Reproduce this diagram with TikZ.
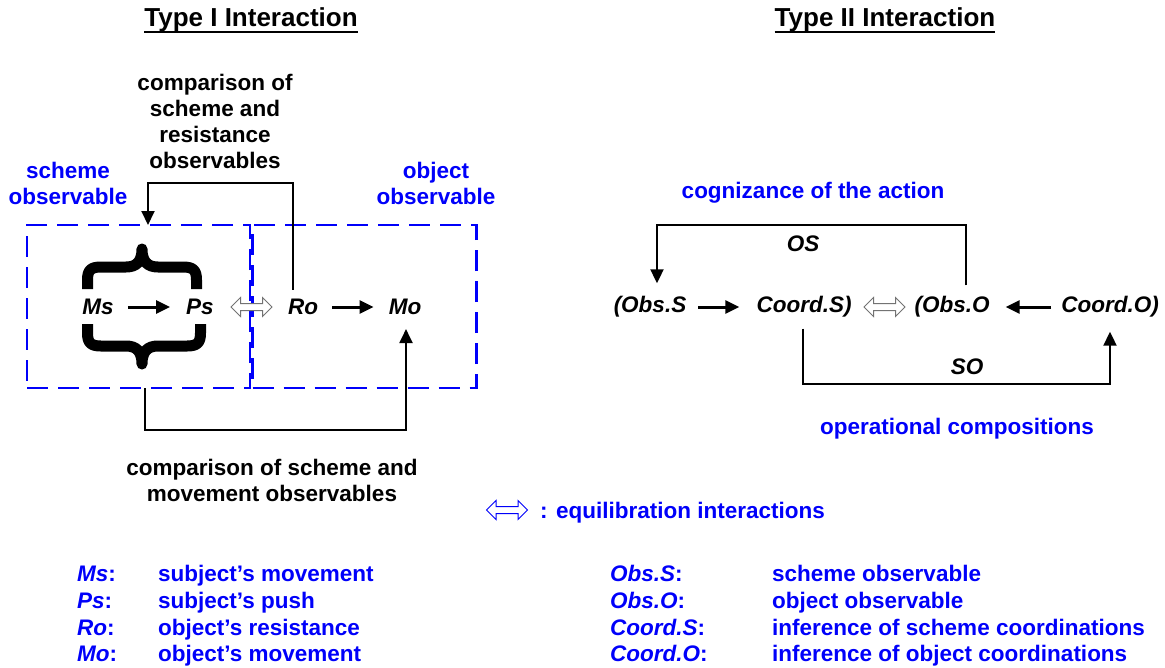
\documentclass[tikz,border=0pt]{standalone}
\usepackage{fontspec}
\setmainfont{Liberation Sans}
\usetikzlibrary{arrows.meta,shapes.arrows}
\definecolor{lblue}{RGB}{0,0,250}
\begin{document}
\begin{tikzpicture}[x=1pt,y=-1pt,
  every node/.style={font=\fontsize{22.5}{26}\selectfont\bfseries, inner sep=0pt, align=center},
  bluetxt/.style={text=lblue},
  var/.style={font=\fontsize{22.5}{26}\selectfont\bfseries\itshape},
  heading/.style={font=\fontsize{26}{30}\selectfont\bfseries},
  arr/.style={line width=2pt, -{Triangle[length=14pt,width=13pt]}},
  flow/.style={line width=3pt, -{Triangle[length=14pt,width=13pt]}},
  dashbox/.style={draw=lblue, line width=2.5pt, dash pattern=on 21pt off 10pt},
  equi/.style={double arrow, draw=#1, line width=1pt, fill=white, inner sep=3pt,
    minimum height=41pt, double arrow head extend=6pt, double arrow tip angle=90},
  equi/.default=black!55,
  bracepen/.style={line width=11pt, line join=round},
  leg/.style={anchor=base west, bluetxt},
]
\useasboundingbox (0,0) rectangle (1165,667);

% ---------- headings ----------
\node[heading] (h1) at (251,20) {Type I Interaction};
\node[heading] (h2) at (885,20) {Type II Interaction};
\draw[line width=2.2pt] ([yshift=-5pt]h1.base west) -- ([yshift=-5pt]h1.base east);
\draw[line width=2.2pt] ([yshift=-5pt]h2.base west) -- ([yshift=-5pt]h2.base east);

% ---------- Type I ----------
\node[dashbox, minimum width=223pt, minimum height=163pt] (sbox) at (138.5,306.5) {};
\node[dashbox, minimum width=224pt, minimum height=163pt] (obox) at (364.5,306.5) {};

\node[bluetxt] (lsch) at (68,183) {scheme\\observable};
\node[bluetxt] (lobj) at (436,183) {object\\observable};
\node (cmp1) at (215,121) {comparison of\\scheme and\\resistance\\observables};
\node (cmp2) at (272,480) {comparison of scheme and\\movement observables};

\node[var] (ms) at (98,307) {Ms};
\node[var] (ps) at (200,307) {Ps};
\node[var] (ro) at (303,307) {Ro};
\node[var] (mo) at (405,307) {Mo};
\node[equi] (eq1) at (251.5,307) {};

% the two heavy curly braces round the scheme
\draw[bracepen] (87.5,289) -- (87.5,280) .. controls (87.5,270) and (91,267) .. (101,267)
  -- (126,267) .. controls (136,267) and (142,262) .. (142,249)
  .. controls (142,262) and (148,267) .. (158,267)
  -- (183,267) .. controls (193,267) and (196.5,270) .. (196.5,280) -- (196.5,289);
\draw[bracepen] (87.5,324) -- (87.5,333) .. controls (87.5,343) and (91,346) .. (101,346)
  -- (126,346) .. controls (136,346) and (142,351) .. (142,364)
  .. controls (142,351) and (148,346) .. (158,346)
  -- (187,346) .. controls (197,346) and (200.5,343) .. (200.5,333) -- (200.5,324);

\draw[flow] ([xshift=14pt]ms.east) -- ([xshift=-16pt]ps.west);
\draw[flow] ([xshift=14pt]ro.east) -- ([xshift=-15pt]mo.west);

\coordinate (sbtop) at (148,225);
\coordinate (sbbot) at (145,388);
\draw[arr] ([xshift=-10pt,yshift=9pt]ro.north) |- ([yshift=42pt]sbtop) -- (sbtop);
\draw[arr] (sbbot) -- ++(0,42) -| ([xshift=1pt,yshift=-14pt]mo.south);

% ---------- Type II ----------
\node[bluetxt] (cog) at (813,193) {cognizance of the action};
\node[bluetxt] (opc) at (957,429) {operational compositions};

\node[var] (obss) at (650,307) {(Obs.S};
\node[var] (coords) at (804,307) {Coord.S)};
\node[equi] (eq2) at (884.5,307) {};
\node[var] (obso) at (952,307) {(Obs.O};
\node[var] (coordo) at (1110,307) {Coord.O)};
\node[var] (os) at (803,244) {OS};
\node[var] (so) at (967,367) {SO};

\draw[flow] ([xshift=12pt]obss.east) -- ([xshift=-17pt]coords.west);
\draw[flow] ([xshift=-10pt]coordo.west) -- ([xshift=16pt]obso.east);

\coordinate (osUp) at ([xshift=14pt,yshift=11pt]obso.north);
\coordinate (osTip) at ([xshift=7pt,yshift=13pt]obss.north);
\draw[arr] (osUp) -- ++(0,-60) -| (osTip);
\draw[arr] ([xshift=-1pt,yshift=-11pt]coords.south) |- ([yshift=-9pt]so.south) -| ([yshift=-14pt]coordo.south);

% ---------- legend ----------
\node[equi=lblue] (eq3) at (507,510) {};
\node[leg] (eqt) at (540,518) {: equilibration interactions};

\node[leg] (k1) at (77,581) {\itshape Ms\upshape:};
\node[leg] (k2) at (77,608) {\itshape Ps\upshape:};
\node[leg] (k3) at (77,635) {\itshape Ro\upshape:};
\node[leg] (k4) at (77,661) {\itshape Mo\upshape:};
\node[leg] (d1) at (158,581) {subject’s movement};
\node[leg] (d2) at (158,608) {subject’s push};
\node[leg] (d3) at (158,635) {object’s resistance};
\node[leg] (d4) at (158,661) {object’s movement};

\node[leg] (k5) at (610,581) {\itshape Obs.S\upshape:};
\node[leg] (k6) at (610,608) {\itshape Obs.O\upshape:};
\node[leg] (k7) at (610,635) {\itshape Coord.S\upshape:};
\node[leg] (k8) at (610,661) {\itshape Coord.O\upshape:};
\node[leg] (d5) at (772,581) {scheme observable};
\node[leg] (d6) at (772,608) {object observable};
\node[leg] (d7) at (772,635) {inference of scheme coordinations};
\node[leg] (d8) at (772,661) {inference of object coordinations};
\end{tikzpicture}
\end{document}
